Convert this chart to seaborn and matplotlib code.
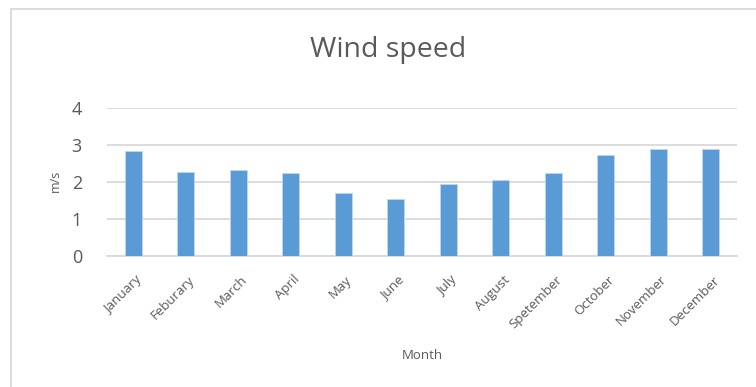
import matplotlib
matplotlib.use("Agg")
import matplotlib.pyplot as plt
import matplotlib.transforms as mtransforms
import seaborn as sns
import pandas as pd

months = ["January", "Feburary", "March", "April", "May", "June", "July",
          "August", "Spetember", "October", "November", "December"]
wind_speed = [2.85, 2.28, 2.33, 2.24, 1.71, 1.53, 1.94, 2.05, 2.25, 2.73, 2.90, 2.88]
y_ticks = [0, 1, 2, 3, 4]

df = pd.DataFrame({"Month": months, "m/s": wind_speed})

sns.set_theme(style="white")
plt.rcParams["font.family"] = ["Open Sans", "DejaVu Sans"]

TXT = "#595959"
GRID = "#D9D9D9"
BAR = "#5B9BD5"

fig = plt.figure(figsize=(7.56, 3.87), dpi=100)
ax = fig.add_axes([107 / 756, 1 - 256 / 387, (737 - 107) / 756, (256 - 108) / 387])

sns.barplot(data=df, x="Month", y="m/s", color=BAR, saturation=1, width=0.32,
            edgecolor="#BDD7EE", linewidth=0.6, ax=ax, zorder=3)

ax.set_ylim(0, 4)
ax.set_xlim(-0.5, len(months) - 0.5)
ax.set_yticks(y_ticks)
ax.set_yticklabels([str(t) for t in y_ticks], fontsize=13, color=TXT)
ax.yaxis.grid(True, color=GRID, linewidth=1.3, zorder=0)
ax.xaxis.grid(False)
for s in ["top", "right", "left"]:
    ax.spines[s].set_visible(False)
ax.spines["bottom"].set_color(GRID)
ax.spines["bottom"].set_linewidth(1.3)
ax.tick_params(axis="both", length=0)
ax.tick_params(axis="y", pad=18)
ax.tick_params(axis="x", pad=0)

offset = mtransforms.ScaledTranslation(2 / 100, -17 / 100, fig.dpi_scale_trans)
ax.set_xticks(range(len(months)))
ax.set_xticklabels(months, rotation=45, ha="right", va="top",
                   rotation_mode="anchor", fontsize=9.5, color=TXT)
for lab in ax.get_xticklabels():
    lab.set_transform(lab.get_transform() + offset)

ax.set_xlabel("Month", fontsize=9.5, color=TXT)
ax.xaxis.set_label_coords(0.5, -0.63)
ax.set_ylabel("")
fig.text(55 / 756, 1 - 181 / 387, "m/s", rotation=90, ha="center", va="center",
         fontsize=9, color=TXT)

fig.text(388 / 756, 1 - 50 / 387, "Wind speed", ha="center", va="center",
         fontsize=20.5, color=TXT)

# chart area border (visible on top and left)
fig.add_artist(plt.Rectangle((11 / 756, -0.1), 1.2, 1 - 9.5 / 387 + 0.1,
                             transform=fig.transFigure, fill=False,
                             edgecolor=GRID, linewidth=1.3))

fig.savefig("out.png", dpi=100, facecolor="white")
